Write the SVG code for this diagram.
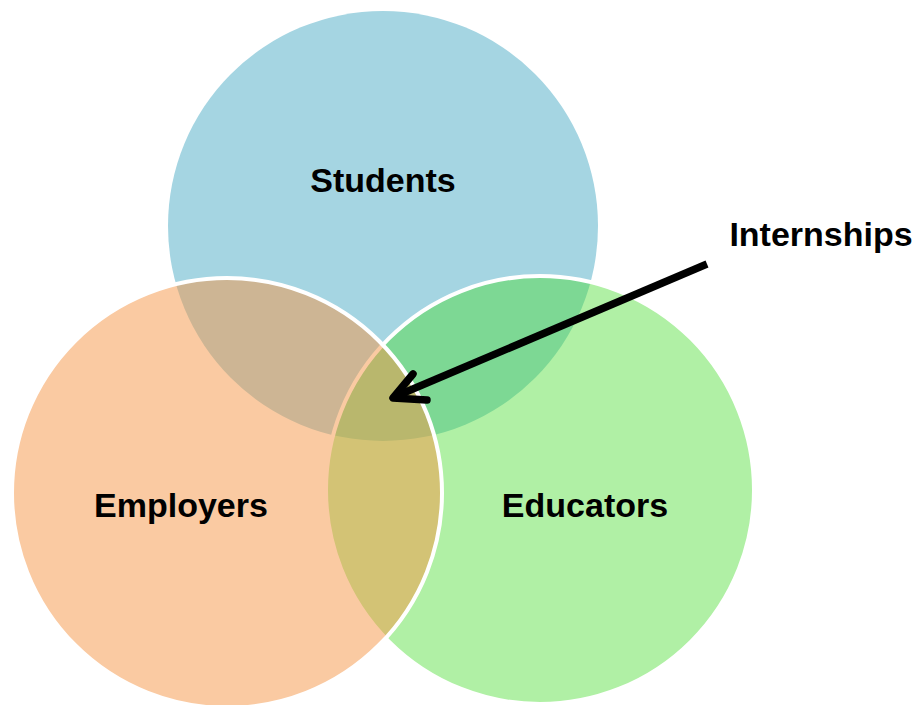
<svg xmlns="http://www.w3.org/2000/svg" width="917" height="705" viewBox="0 0 917 705">
<style>
.lbl{font-family:"Liberation Sans",Arial,sans-serif;font-weight:bold;font-size:34px;fill:#000;text-anchor:middle}
.ring{stroke:#fff;stroke-width:4}
</style>
<rect width="917" height="705" fill="#fff"/>
<g id="students">
<circle cx="383" cy="226" r="215" fill="#A5D5E2"/>
<text class="lbl" x="383" y="192">Students</text>
</g>
<g id="educators">
<circle class="ring" cx="540" cy="490" r="214" fill="rgb(71,220,46)" fill-opacity="0.43"/>
</g>
<g id="employers">
<circle class="ring" cx="227" cy="493" r="215" fill="rgb(245,149,69)" fill-opacity="0.5"/>
<text class="lbl" x="181" y="517">Employers</text>
</g>
<g id="educators-label">
<text class="lbl" x="585" y="517">Educators</text>
</g>
<g id="internships">
<text class="lbl" x="821" y="246">Internships</text>
</g>
<g id="connectors" fill="none" stroke="#000" stroke-width="7.5" stroke-linecap="round" stroke-linejoin="round">
<line x1="707" y1="264" x2="394" y2="397" stroke-linecap="butt"/>
<polyline points="413,374 393,398 427,400"/>
</g>
</svg>
